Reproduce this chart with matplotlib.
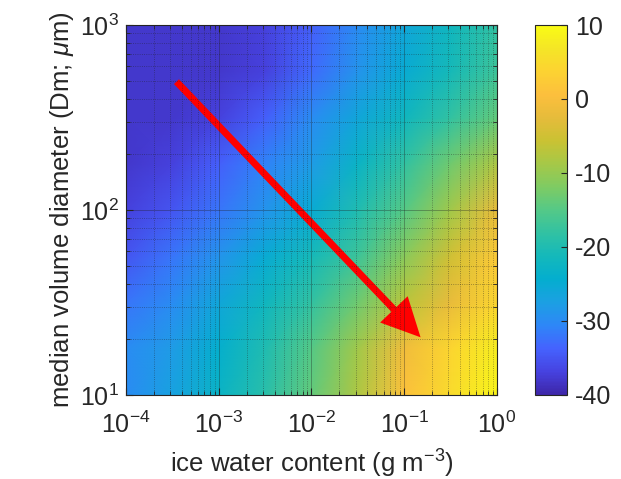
import matplotlib
matplotlib.use("Agg")
import matplotlib.pyplot as plt
from matplotlib.colors import LinearSegmentedColormap
from matplotlib.patches import FancyArrowPatch
import numpy as np

# ice water content (g m-3), half-decade steps
iwc = [1e-4, 3.16e-4, 1e-3, 3.16e-3, 1e-2, 3.16e-2, 1e-1, 3.16e-1, 1.0]
# median volume diameter (um), quarter-decade steps
dm = [10, 17.8, 31.6, 56.2, 100, 178, 316, 562, 1000]

# values, one row per Dm (bottom to top)
vals = [
    [-30, -27, -23, -19, -14, -8, 1, 5, 9],
    [-30, -28, -24, -20, -15, -9, -1, 4, 8],
    [-32, -30, -26, -22, -18, -13, -7, -2, 4],
    [-35, -32, -29, -25, -21, -17, -11, -5, 2],
    [-37, -35, -32, -29, -25, -20, -15, -9, -2],
    [-38, -37, -34, -31, -28, -23, -18, -13, -8],
    [-38, -38, -37, -34, -30, -26, -22, -18, -14],
    [-38, -38, -38, -37, -33, -29, -25, -21, -17],
    [-38, -38, -38, -37, -34, -30, -26, -22, -18],
]

clim = (-40, 10)
cbar_ticks = [-40, -30, -20, -10, 0, 10]

# arrow ends (iwc, dm)
arrow_tail = (3.5e-4, 494)
arrow_head = (0.15, 20.5)

# rough parula
parula_pts = [
    (0.2422, 0.1504, 0.6603), (0.2760, 0.2606, 0.8808), (0.2691, 0.3868, 0.9967),
    (0.1786, 0.5289, 0.9682), (0.1078, 0.6280, 0.8877), (0.0150, 0.6810, 0.8100),
    (0.0780, 0.7230, 0.7320), (0.1920, 0.7600, 0.6380), (0.3300, 0.7880, 0.5300),
    (0.4950, 0.7960, 0.3890), (0.6500, 0.7850, 0.2800), (0.7900, 0.7600, 0.2000),
    (0.9000, 0.7350, 0.2300), (0.9900, 0.7500, 0.2400), (0.9900, 0.8250, 0.1950),
    (0.9600, 0.9000, 0.1500), (0.9769, 0.9839, 0.0805),
]
parula = LinearSegmentedColormap.from_list("parula", parula_pts, N=256)

plt.rcParams['font.family'] = ['Liberation Sans', 'DejaVu Sans']
plt.rcParams['mathtext.fontset'] = 'custom'
plt.rcParams['mathtext.rm'] = 'Liberation Sans'
plt.rcParams['mathtext.it'] = 'Liberation Sans:italic'
plt.rcParams['axes.unicode_minus'] = False
edge = '#262626'
fs = 18

fig = plt.figure(figsize=(6.21, 4.79), dpi=100)
ax = fig.add_axes([0.2029, 0.1754, 0.5974, 0.7724])
cax = fig.add_axes([0.8615, 0.1754, 0.0515, 0.7724])

X, Y = np.meshgrid(iwc, dm)
mesh = ax.pcolormesh(X, Y, np.array(vals), cmap=parula, vmin=clim[0], vmax=clim[1],
                     shading='gouraud')
ax.set_xscale('log')
ax.set_yscale('log')
ax.set_xlim(1e-4, 1)
ax.set_ylim(10, 1000)

ax.set_axisbelow(False)
ax.grid(True, which='major', color='#202020', alpha=0.4, lw=0.6, ls='-')
ax.grid(True, which='minor', color='#202020', alpha=0.5, lw=0.6, ls=':')
ax.tick_params(which='both', direction='in', top=True, right=True,
               colors=edge, labelsize=fs)
ax.tick_params(axis='x', pad=12)
ax.tick_params(axis='y', pad=5)
ax.tick_params(which='major', length=5)
ax.tick_params(which='minor', length=3)
for s in ax.spines.values():
    s.set_color(edge)
    s.set_linewidth(0.8)

ax.set_xlabel('ice water content (g m$^{-3}$)', fontsize=fs + 0.5, color=edge, labelpad=7)
ax.set_ylabel('median volume diameter (Dm; $\\mu$m)', fontsize=fs + 0.5, color=edge, labelpad=3)

arr = FancyArrowPatch(arrow_tail, arrow_head,
                      arrowstyle='simple,head_length=1.39,head_width=1.37,tail_width=0.25',
                      mutation_scale=20, color='red', lw=0, shrinkA=0, shrinkB=0)
ax.add_patch(arr)

cb = fig.colorbar(mesh, cax=cax, ticks=cbar_ticks)
cb.outline.set_edgecolor(edge)
cb.outline.set_linewidth(0.8)
cax.tick_params(direction='in', colors=edge, labelsize=fs, length=4, pad=6)
cax.minorticks_off()

fig.savefig('out.png', dpi=100, facecolor='white')
